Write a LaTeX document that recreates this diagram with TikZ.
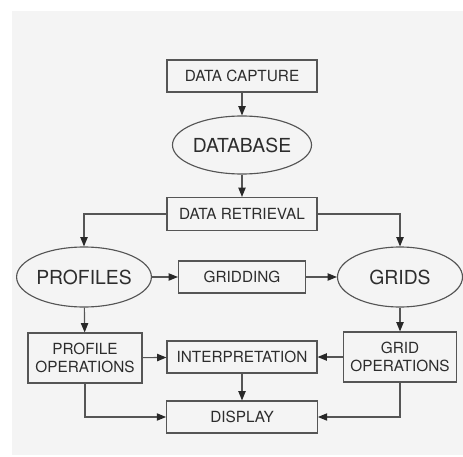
\documentclass[tikz,border=0pt]{standalone}
\usepackage{fontspec}
\setmainfont{TeX Gyre Heros}
\usetikzlibrary{positioning,arrows.meta,shapes.geometric}
\definecolor{pagebg}{RGB}{244,244,244}
\definecolor{inkgray}{RGB}{45,45,45}
\definecolor{linegray}{RGB}{85,85,85}
\begin{document}
\begin{tikzpicture}[x=0.75pt,y=-0.75pt,every node/.style={font=\fontsize{11.5}{14}\selectfont,text=inkgray},
    stepbox/.style={draw=linegray,line width=.85pt,inner sep=0pt,minimum width=112.5pt,minimum height=24pt,align=center},
    opbox/.style={stepbox,minimum width=85.5pt,minimum height=37.5pt},
    store/.style={ellipse,draw=linegray,line width=.85pt,inner sep=0pt,minimum width=93.75pt,minimum height=45pt,font=\fontsize{14.5}{17}\selectfont},
    flow/.style={-{Triangle[length=7pt,width=5.5pt,color=inkgray!90!black]},draw=linegray,line width=.85pt}]
    \useasboundingbox (0,0) rectangle (463,456);
    \fill[pagebg] (12,11) rectangle (463,455);
    \node[stepbox] (capture) at (242,76) {DATA CAPTURE};
    \node[store,minimum width=93pt,minimum height=43.5pt] (database) at (242,145) {DATABASE};
    \node[stepbox,minimum height=24.75pt] (retrieval) at (242,214) {DATA RETRIEVAL};
    \node[store] (profiles) at (84,277) {PROFILES};
    \node[stepbox,minimum width=95.25pt] (gridding) at (242,277) {GRIDDING};
    \node[store] (grids) at (400,277) {GRIDS};
    \node[opbox] (profops) at (85,358) {PROFILE\\OPERATIONS};
    \node[stepbox] (interp) at (242,357) {INTERPRETATION};
    \node[opbox,minimum width=84.75pt] (gridops) at (400,357) {GRID\\OPERATIONS};
    \node[stepbox,minimum width=113pt] (display) at (242,417) {DISPLAY};
    \draw[flow] (capture)--(database); \draw[flow] (database)--(retrieval);
    \draw[flow] (retrieval.west) -| (profiles.north); \draw[flow] (retrieval.east) -| (grids.north);
    \draw[flow] (profiles)--(gridding); \draw[flow] (gridding)--(grids);
    \draw[flow] (profiles)--(profops); \draw[flow] (grids)--(gridops);
    \draw[flow] (profops)--(interp); \draw[flow] (gridops)--(interp);
    \draw[flow] (interp)--(display);
    \draw[flow] (profops.south) |- (display.west); \draw[flow] (gridops.south) |- (display.east);
  \end{tikzpicture}
\end{document}
